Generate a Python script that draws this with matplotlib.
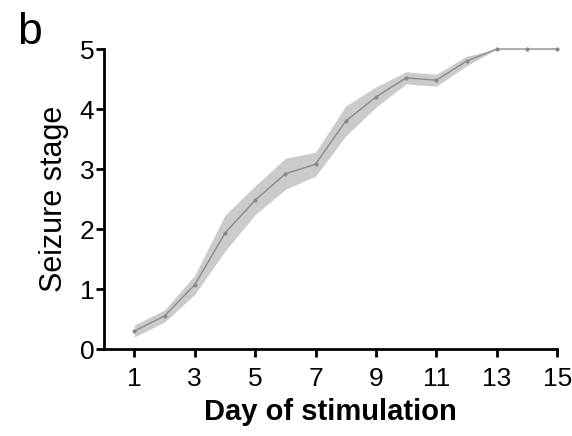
import matplotlib
matplotlib.use("Agg")
import matplotlib.pyplot as plt
import numpy as np

days = [1, 2, 3, 4, 5, 6, 7, 8, 9, 10, 11, 12, 13, 14, 15]
stage_mean = [0.3, 0.55, 1.07, 1.93, 2.48, 2.92, 3.08, 3.8, 4.2, 4.52, 4.48, 4.8, 5.0, 5.0, 5.0]
stage_sem = [0.1, 0.1, 0.16, 0.3, 0.24, 0.26, 0.2, 0.25, 0.17, 0.1, 0.1, 0.08, 0.0, 0.0, 0.0]
x_ticks = [1, 3, 5, 7, 9, 11, 13, 15]
y_ticks = [0, 1, 2, 3, 4, 5]

plt.rcParams.update({
    "font.family": ["Liberation Sans", "DejaVu Sans"],
})

fig = plt.figure(figsize=(5.72, 4.36), dpi=100)
ax = fig.add_axes([0.182, 0.1995, 0.792, 0.688])

x = np.array(days)
m = np.array(stage_mean)
s = np.array(stage_sem)
ax.fill_between(x, m - s, m + s, color="#cbcbcb", linewidth=0, clip_on=False)
ax.plot(x, m, color="#8a8a8a", linewidth=1.0, marker="o", markersize=3,
        markerfacecolor="#8a8a8a", markeredgewidth=0, clip_on=False)

ax.set_xlim(0, 15)
ax.set_ylim(0, 5)
ax.set_xticks(x_ticks)
ax.set_yticks(y_ticks)
ax.tick_params(direction="out", length=6, width=2, labelsize=19)
ax.tick_params(axis="x", pad=7)
ax.tick_params(axis="y", pad=1)
for side in ("top", "right"):
    ax.spines[side].set_visible(False)
for side in ("left", "bottom"):
    ax.spines[side].set_linewidth(2)

ax.set_xlabel("Day of stimulation", fontsize=21, fontweight="bold", labelpad=5)
ax.set_ylabel("Seizure stage", fontsize=22, labelpad=8)
fig.text(0.03, 0.925, "b", fontsize=32, va="center", ha="left")

fig.savefig("out.png", dpi=100)
